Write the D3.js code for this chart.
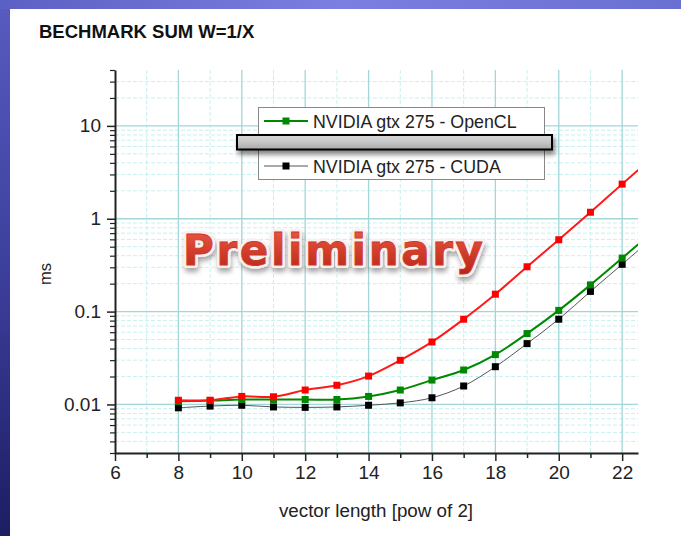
<!DOCTYPE html>
<html><head><meta charset="utf-8">
<script src="https://cdn.jsdelivr.net/npm/d3@7"></script>
<style>
html,body{margin:0;padding:0;background:#fff;}
svg{display:block;}
</style></head>
<body>
<svg id="chart" width="681" height="536"></svg>
<script>
// ---------- data ----------
const titleText = "BECHMARK SUM W=1/X";
const xValues = [8, 9, 10, 11, 12, 13, 14, 15, 16, 17, 18, 19, 20, 21, 22, 23];
const redValues   = [0.0111, 0.0111, 0.0122, 0.0121, 0.0143, 0.0161, 0.0202, 0.0299, 0.0471, 0.0828, 0.154, 0.304, 0.594, 1.175, 2.36, 4.7];
const greenValues = [0.0108, 0.0110, 0.0113, 0.0113, 0.0113, 0.0113, 0.0122, 0.0143, 0.0183, 0.0235, 0.0344, 0.058, 0.103, 0.194, 0.377, 0.74];
const blackValues = [0.0092, 0.0096, 0.0098, 0.0094, 0.0093, 0.0094, 0.0098, 0.0104, 0.0118, 0.0158, 0.0255, 0.0452, 0.0828, 0.165, 0.323, 0.64];
const seriesNames = ["NVIDIA gtx 275 - OpenCL", "NVIDIA gtx 275 - CUDA"];
const xMajorTicks = [6, 8, 10, 12, 14, 16, 18, 20, 22];
const xMinorTicks = [7, 9, 11, 13, 15, 17, 19, 21];
const yMajorTicks = [0.01, 0.1, 1, 10];
const yMajorLabels = ["0.01", "0.1", "1", "10"];
const yMinorTicks = [0.003,0.004,0.005,0.006,0.007,0.008,0.009,
                     0.02,0.03,0.04,0.05,0.06,0.07,0.08,0.09,
                     0.2,0.3,0.4,0.5,0.6,0.7,0.8,0.9,
                     2,3,4,5,6,7,8,9,20,30,40];
const xLabel = "vector length [pow of 2]";
const yLabel = "ms";
const watermark = "Preliminary";

// ---------- layout ----------
const svg = d3.select("#chart");
const W = 681, H = 536;
const L = 115, R = 638, T = 70, B = 453;
const FONT = "'Liberation Sans', Arial, sans-serif";

const defs = svg.append("defs");
// backgrounds
const gTop = defs.append("linearGradient").attr("id","gTop").attr("x1",0).attr("x2",1).attr("y1",0).attr("y2",0);
gTop.append("stop").attr("offset","0%").attr("stop-color","#5c60c4");
gTop.append("stop").attr("offset","50%").attr("stop-color","#7a7fe0");
gTop.append("stop").attr("offset","100%").attr("stop-color","#6a6fd2");
const gLeft = defs.append("linearGradient").attr("id","gLeft").attr("x1",0).attr("x2",0).attr("y1",0).attr("y2",1);
gLeft.append("stop").attr("offset","0%").attr("stop-color","#585cc0");
gLeft.append("stop").attr("offset","55%").attr("stop-color","#3a3c98");
gLeft.append("stop").attr("offset","100%").attr("stop-color","#1c1d62");
svg.append("rect").attr("x",0).attr("y",0).attr("width",W).attr("height",H).attr("fill","url(#gLeft)");
svg.append("rect").attr("x",0).attr("y",0).attr("width",W).attr("height",9).attr("fill","url(#gTop)");
svg.append("rect").attr("x",10).attr("y",9).attr("width",W-10).attr("height",H-9).attr("fill","#ffffff");

// title
svg.append("text").attr("x",39).attr("y",38).attr("font-family",FONT).attr("font-weight","bold")
  .attr("font-size",18.5).attr("fill","#111").text(titleText);

// scales
const x = d3.scaleLinear().domain([6, 22.5]).range([L, R]);
const y = d3.scaleLog().domain([0.003, 40]).range([B, T]);

// grid
const grid = svg.append("g");
grid.selectAll(".ymin").data(yMinorTicks.filter(v => v < 40)).enter().append("line")
  .attr("x1",L).attr("x2",R).attr("y1",d=>y(d)).attr("y2",d=>y(d))
  .attr("stroke","#c8f0f0").attr("stroke-width",1).attr("stroke-dasharray","4,2");
grid.selectAll(".xmin").data(xMinorTicks).enter().append("line")
  .attr("x1",d=>x(d)).attr("x2",d=>x(d)).attr("y1",T).attr("y2",B)
  .attr("stroke","#c8f0f0").attr("stroke-width",1).attr("stroke-dasharray","4,2");
grid.selectAll(".ymaj").data(yMajorTicks).enter().append("line")
  .attr("x1",L).attr("x2",R).attr("y1",d=>y(d)).attr("y2",d=>y(d))
  .attr("stroke","#a2d6d8").attr("stroke-width",1.3);
grid.selectAll(".xmaj").data(xMajorTicks.filter(v => v > 6)).enter().append("line")
  .attr("x1",d=>x(d)).attr("x2",d=>x(d)).attr("y1",T).attr("y2",B)
  .attr("stroke","#a2d6d8").attr("stroke-width",1.3);

// watermark
const wg = defs.append("linearGradient").attr("id","wmGrad").attr("x1",0).attr("x2",0).attr("y1",0).attr("y2",1);
wg.append("stop").attr("offset","0%").attr("stop-color","#ee5a44");
wg.append("stop").attr("offset","100%").attr("stop-color","#b82414");
const sh = defs.append("filter").attr("id","wmShadow").attr("x","-10%").attr("y","-30%").attr("width","120%").attr("height","170%");
sh.append("feGaussianBlur").attr("in","SourceAlpha").attr("stdDeviation",2.5).attr("result","b");
sh.append("feOffset").attr("in","b").attr("dx",1).attr("dy",4).attr("result","o");
sh.append("feComponentTransfer").attr("in","o").attr("result","o2")
  .append("feFuncA").attr("type","linear").attr("slope",0.35);
const mrg = sh.append("feMerge");
mrg.append("feMergeNode").attr("in","o2");
mrg.append("feMergeNode").attr("in","SourceGraphic");
const wm = svg.append("g");
wm.append("text").attr("x",183).attr("y",265).attr("font-family","'DejaVu Sans', sans-serif")
  .attr("font-weight","bold").attr("font-size",42).attr("textLength",300).attr("lengthAdjust","spacing")
  .attr("fill","#fff").attr("stroke","#fbeeee").attr("stroke-width",6).attr("stroke-linejoin","round")
  .attr("filter","url(#wmShadow)").text(watermark);
wm.append("text").attr("x",183).attr("y",265).attr("font-family","'DejaVu Sans', sans-serif")
  .attr("font-weight","bold").attr("font-size",42).attr("textLength",300).attr("lengthAdjust","spacing")
  .attr("fill","url(#wmGrad)").attr("stroke","#c83a28").attr("stroke-width",0.8).text(watermark);

// clip
defs.append("clipPath").attr("id","plotClip").append("rect")
  .attr("x",L).attr("y",T-5).attr("width",R-L).attr("height",B-T+5);

// series
const series = [
  {vals: blackValues, line:"#555555", mark:"#000000", lw:1},
  {vals: greenValues, line:"#008800", mark:"#008800", lw:2},
  {vals: redValues,   line:"#ff1a1a", mark:"#ff0000", lw:2}
];
const plot = svg.append("g").attr("clip-path","url(#plotClip)");
const lineGen = d3.line().x(d=>x(d[0])).y(d=>y(d[1])).curve(d3.curveCatmullRom.alpha(0.5));
series.forEach(s => {
  const pts = xValues.map((xv,i)=>[xv, s.vals[i]]);
  plot.append("path").datum(pts).attr("d",lineGen).attr("fill","none")
    .attr("stroke",s.line).attr("stroke-width",s.lw);
  plot.selectAll(null).data(pts).enter().append("rect")
    .attr("x",d=>x(d[0])-3.5).attr("y",d=>y(d[1])-3.5).attr("width",7).attr("height",7)
    .attr("fill",s.mark);
});

// axes
const axG = svg.append("g").attr("font-family",FONT);
// x axis
const xAxis = d3.axisBottom(x).tickValues(xMajorTicks).tickSize(8).tickSizeOuter(0).tickPadding(5).tickFormat(d3.format("d"));
const xg = axG.append("g").attr("transform",`translate(0,${B})`).call(xAxis);
xg.selectAll(".tick line").attr("stroke","#222").attr("stroke-width",1.5);
xg.selectAll(".tick text").attr("font-size",19).attr("fill","#222").attr("font-family",FONT);
const xgm = axG.append("g").attr("transform",`translate(0,${B})`)
  .call(d3.axisBottom(x).tickValues(xMinorTicks).tickSize(5).tickSizeOuter(0).tickFormat(""));
xgm.select(".domain").remove();
xgm.selectAll(".tick line").attr("stroke","#222").attr("stroke-width",1.5);
xg.select(".domain").attr("stroke","#222").attr("stroke-width",2);
// y axis
const yAxis = d3.axisLeft(y).tickValues(yMajorTicks).tickSize(8).tickSizeOuter(0).tickPadding(6)
  .tickFormat((d,i)=>yMajorLabels[i]);
const yg = axG.append("g").attr("transform",`translate(${L},0)`).call(yAxis);
yg.selectAll(".tick line").attr("stroke","#222").attr("stroke-width",1.5);
yg.selectAll(".tick text").attr("font-size",19).attr("fill","#222").attr("font-family",FONT);
const ygm = axG.append("g").attr("transform",`translate(${L},0)`)
  .call(d3.axisLeft(y).tickValues(yMinorTicks).tickSize(5).tickSizeOuter(0).tickFormat(""));
ygm.select(".domain").remove();
ygm.selectAll(".tick line").attr("stroke","#222").attr("stroke-width",1.2);
yg.select(".domain").attr("stroke","#222").attr("stroke-width",2);

// axis labels
svg.append("text").attr("x",376).attr("y",517).attr("text-anchor","middle")
  .attr("font-family",FONT).attr("font-size",18.8).attr("fill","#222").text(xLabel);
svg.append("text").attr("transform","translate(51,274) rotate(-90)").attr("text-anchor","middle")
  .attr("font-family",FONT).attr("font-size",16.5).attr("fill","#222").text(yLabel);

// legend
const lg = svg.append("g");
lg.append("rect").attr("x",258.5).attr("y",107.5).attr("width",286).attr("height",72)
  .attr("fill","#fff").attr("stroke","#888").attr("stroke-width",1);
const legendItems = [
  {name: seriesNames[0], color:"#008800", mark:"#008800", lw:2, yy:121},
  {name: seriesNames[1], color:"#555555", mark:"#000000", lw:1, yy:166}
];
legendItems.forEach(it => {
  lg.append("line").attr("x1",264).attr("x2",308).attr("y1",it.yy).attr("y2",it.yy)
    .attr("stroke",it.color).attr("stroke-width",it.lw);
  lg.append("rect").attr("x",282.5).attr("y",it.yy-3.5).attr("width",7).attr("height",7).attr("fill",it.mark);
  lg.append("text").attr("x",313).attr("y",it.yy+6.5).attr("font-family",FONT).attr("font-size",17.8)
    .attr("fill","#222").text(it.name);
});
// grey redaction bar
const bg = defs.append("linearGradient").attr("id","barGrad").attr("x1",0).attr("x2",0).attr("y1",0).attr("y2",1);
bg.append("stop").attr("offset","0%").attr("stop-color","#d8d8d8");
bg.append("stop").attr("offset","50%").attr("stop-color","#c6c6c6");
bg.append("stop").attr("offset","100%").attr("stop-color","#a8a8a8");
const bs = defs.append("filter").attr("id","barShadow").attr("x","-5%").attr("y","-50%").attr("width","110%").attr("height","250%");
bs.append("feGaussianBlur").attr("in","SourceAlpha").attr("stdDeviation",2.5).attr("result","b");
bs.append("feOffset").attr("in","b").attr("dx",2).attr("dy",4).attr("result","o");
bs.append("feComponentTransfer").attr("in","o").attr("result","o2").append("feFuncA").attr("type","linear").attr("slope",0.5);
const bm = bs.append("feMerge");
bm.append("feMergeNode").attr("in","o2");
bm.append("feMergeNode").attr("in","SourceGraphic");
lg.append("rect").attr("x",237).attr("y",135).attr("width",315).attr("height",14.5)
  .attr("fill","url(#barGrad)").attr("stroke","#000").attr("stroke-width",2).attr("filter","url(#barShadow)");
</script>
</body></html>
